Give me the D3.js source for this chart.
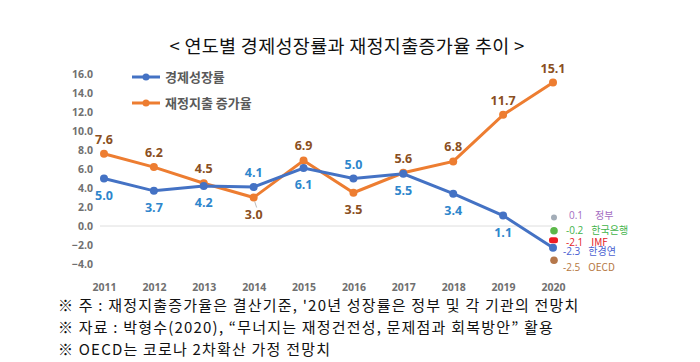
<!DOCTYPE html>
<meta charset="utf-8">
<script src="https://d3js.org/d3.v7.min.js"></script>
<style>
  body { margin: 0; background: #fff; }
  text { font-family: "Open Sans", "Noto Sans CJK KR", sans-serif; }
  .kr { font-family: "Noto Sans CJK KR", sans-serif; }
</style>
<svg id="chart" width="700" height="362"></svg>
<script>

// data
var years = ["2011", "2012", "2013", "2014", "2015", "2016", "2017", "2018", "2019", "2020"];
var growth = [5.0, 3.7, 4.2, 4.1, 6.1, 5.0, 5.5, 3.4, 1.1, -2.3];
var spending = [7.6, 6.2, 4.5, 3.0, 6.9, 3.5, 5.6, 6.8, 11.7, 15.1];
var growthLabelSide = ["b", "b", "b", "a", "b", "a", "b", "b", "b", ""];
var spendingLabelSide = ["a", "a", "a", "b", "a", "b", "a", "a", "a", "a"];
var yTicks = [-4, -2, 0, 2, 4, 6, 8, 10, 12, 14, 16];

// 2020 forecasts by institution (marker spots as drawn in the picture)
var instNames = ["정부", "한국은행", "IMF", "한경연", "OECD"];
var instLabels = ["0.1", "-0.2", "-2.1", "-2.3", "-2.5"];
var instMarkerAt = [0.9, -0.5, -1.5, null, -3.6];
var instColors = ["#a46cc2", "#3fb34a", "#e32228", "#4a5fd2", "#b5773f"];
var instMarkerColors = ["#a3adb8", "#5cb84a", "#ee1c24", null, "#b5774a"];

var notes = [
  "※  주 : 재정지출증가율은 결산기준, '20년 성장률은 정부 및 각 기관의 전망치",
  "※ 자료 : 박형수(2020), “무너지는 재정건전성, 문제점과 회복방안” 활용",
  "※ OECD는 코로나 2차확산 가정 전망치"
];

var svg = d3.select("#chart");

var blue = "#4472c4", orange = "#ed7d31";
var blueLbl = "#2e86cc", brownLbl = "#8a4f22";

var x = d3.scalePoint().domain(years).range([104, 553]);
var y = d3.scaleLinear().domain([-4, 16]).range([264, 74]);

// title
svg.append("text")
  .attr("class", "kr")
  .attr("x", 347).attr("y", 53)
  .attr("text-anchor", "middle")
  .style("font-size", "18.5px")
  .style("letter-spacing", "0.3px")
  .attr("fill", "#111")
  .text("< 연도별 경제성장률과 재정지출증가율 추이 >");

// zero line
svg.append("line")
  .attr("x1", 100).attr("x2", 552)
  .attr("y1", y(0)).attr("y2", y(0))
  .attr("stroke", "#dedede").attr("stroke-width", 1);

// axes
var yAxis = svg.append("g")
  .attr("transform", "translate(96,0)")
  .call(d3.axisLeft(y).tickValues(yTicks).tickSize(0).tickPadding(3).tickFormat(d3.format(".1f")));
var xAxis = svg.append("g")
  .attr("transform", "translate(0,276)")
  .call(d3.axisBottom(x).tickSize(0).tickPadding(8));
[yAxis, xAxis].forEach(function(g) {
  g.select(".domain").remove();
  g.selectAll("text")
    .style("font-family", "'Open Sans', sans-serif")
    .style("font-size", "10.5px")
    .style("font-weight", "bold")
    .attr("fill", "#707070");
});

// lines
var line = d3.line().x(function(d, i) { return x(years[i]); }).y(function(d) { return y(d); });

svg.append("path").datum(spending)
  .attr("d", line).attr("fill", "none")
  .attr("stroke", orange).attr("stroke-width", 3);
svg.append("path").datum(growth)
  .attr("d", line).attr("fill", "none")
  .attr("stroke", blue).attr("stroke-width", 3);

svg.selectAll(".sp").data(spending).enter().append("circle")
  .attr("cx", function(d, i) { return x(years[i]); })
  .attr("cy", function(d) { return y(d); })
  .attr("r", 4).attr("fill", orange);
svg.selectAll(".gr").data(growth).enter().append("circle")
  .attr("cx", function(d, i) { return x(years[i]); })
  .attr("cy", function(d) { return y(d); })
  .attr("r", 4).attr("fill", blue);

// leader line for the 2014 label
svg.append("line")
  .attr("x1", x("2014") + 1).attr("y1", y(3.0) + 4)
  .attr("x2", x("2014") + 3).attr("y2", y(3.0) + 10)
  .attr("stroke", "#bbb").attr("stroke-width", 1);

// data labels
function drawLabels(vals, side, color) {
  var g = svg.append("g");
  vals.forEach(function(v, i) {
    if (side[i] === "") return;
    g.append("text")
      .attr("x", x(years[i]))
      .attr("y", y(v) + (side[i] === "a" ? -10 : 21))
      .attr("text-anchor", "middle")
      .style("font-size", "12.5px").style("font-weight", "bold")
      .attr("fill", color)
      .text(d3.format(".1f")(v));
  });
}
drawLabels(growth, growthLabelSide, blueLbl);
drawLabels(spending, spendingLabelSide, brownLbl);

// institution forecasts for 2020
var inst = svg.append("g");
instNames.forEach(function(name, i) {
  var yy = instMarkerAt[i] === null ? y(growth[9]) : y(instMarkerAt[i]);
  if (instMarkerAt[i] !== null) {
    if (name === "IMF") {
      inst.append("rect")
        .attr("x", x("2020") - 4).attr("y", yy - 3)
        .attr("width", 9).attr("height", 6).attr("rx", 2.5)
        .attr("fill", instMarkerColors[i]);
    } else {
      inst.append("circle")
        .attr("cx", x("2020") + 1).attr("cy", yy)
        .attr("r", name === "정부" ? 3 : 3.8)
        .attr("fill", instMarkerColors[i]);
    }
  }
  var dy = [-2, 0, 2, 4, 7][i];
  var t = inst.append("text")
    .attr("x", x("2020") + [16, 13, 13, 10, 10][i])
    .attr("y", yy + dy + 3.5)
    .style("font-size", "10px")
    .attr("fill", instColors[i]);
  t.append("tspan").text(instLabels[i]);
  t.append("tspan").attr("class", "kr").attr("dx", i === 0 ? 12 : 8).text(name);
});

// legend
var legend = svg.append("g");
[["경제성장률", blue, 77], ["재정지출 증가율", orange, 103]].forEach(function(l) {
  legend.append("line")
    .attr("x1", 132).attr("x2", 160).attr("y1", l[2]).attr("y2", l[2])
    .attr("stroke", l[1]).attr("stroke-width", 3);
  legend.append("circle").attr("cx", 146).attr("cy", l[2]).attr("r", 3.5).attr("fill", l[1]);
  legend.append("text")
    .attr("class", "kr")
    .attr("x", 165).attr("y", l[2] + 5)
    .style("font-size", "13px").style("font-weight", "bold")
    .attr("fill", "#595959")
    .text(l[0]);
});

// notes under the chart
svg.append("g").selectAll("text").data(notes).enter().append("text")
  .attr("class", "kr")
  .attr("x", 58)
  .attr("y", function(d, i) { return 311 + i * 22; })
  .style("font-size", "15px")
  .style("letter-spacing", "1.2px")
  .attr("fill", "#111")
  .text(function(d) { return d; });

</script>
